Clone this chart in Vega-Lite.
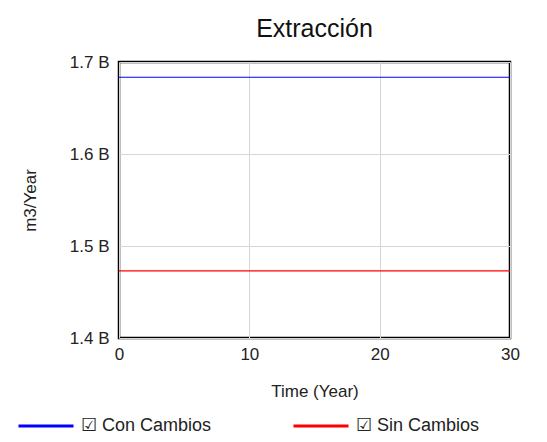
{
  "$schema": "https://vega.github.io/schema/vega-lite/v6.json",
  "autosize": "none",
  "width": 391,
  "height": 276,
  "padding": {"left": 119, "top": 62, "right": 37, "bottom": 104},
  "background": "white",
  "config": {
    "font": "Liberation Sans",
    "view": {"stroke": "black", "strokeWidth": 2.5},
    "axis": {"labelFont": "Liberation Sans", "titleFont": "Liberation Sans", "labelColor": "#222", "titleColor": "#222", "titleFontWeight": "normal", "domain": false, "ticks": false, "gridColor": "#d6d6d6", "gridWidth": 1}
  },
  "title": {"text": "Extracción", "fontSize": 25, "fontWeight": "normal", "font": "Liberation Sans", "anchor": "middle", "offset": 11, "color": "#111"},
  "data": {
    "values": [
      {"time": 0, "value": 1683400000, "series": "Con Cambios"},
      {"time": 30, "value": 1683400000, "series": "Con Cambios"},
      {"time": 0, "value": 1473000000, "series": "Sin Cambios"},
      {"time": 30, "value": 1473000000, "series": "Sin Cambios"}
    ]
  },
  "mark": {"type": "line", "strokeWidth": 1.2},
  "encoding": {
    "x": {"field": "time", "type": "quantitative", "scale": {"domain": [0, 30], "nice": false}, "axis": {"values": [0, 10, 20, 30], "title": "Time (Year)", "labelFontSize": 17, "labelPadding": 8, "titleFontSize": 17, "titlePadding": 21, "labelFlush": false}},
    "y": {"field": "value", "type": "quantitative", "scale": {"domain": [1400000000, 1700000000], "nice": false, "zero": false}, "axis": {"values": [1400000000, 1500000000, 1600000000, 1700000000], "labelExpr": "format(datum.value / 1e9, '.1f') + ' B'", "title": "m3/Year", "labelFontSize": 17, "labelPadding": 10, "titleFontSize": 17, "titlePadding": 30, "labelFlush": false}},
    "color": {"field": "series", "type": "nominal", "scale": {"domain": ["Con Cambios", "Sin Cambios"], "range": ["#0000ff", "#ff0000"]}, "legend": {"orient": "none", "legendX": -102, "legendY": 335, "direction": "horizontal", "columns": 2, "title": null, "symbolType": "stroke", "symbolSize": 3025, "symbolStrokeWidth": 3, "labelExpr": "'☑ ' + datum.label", "labelFontSize": 18, "labelFont": "Liberation Sans", "labelColor": "#222", "labelOffset": 6, "columnPadding": 75, "labelLimit": 300}}
  }
}
